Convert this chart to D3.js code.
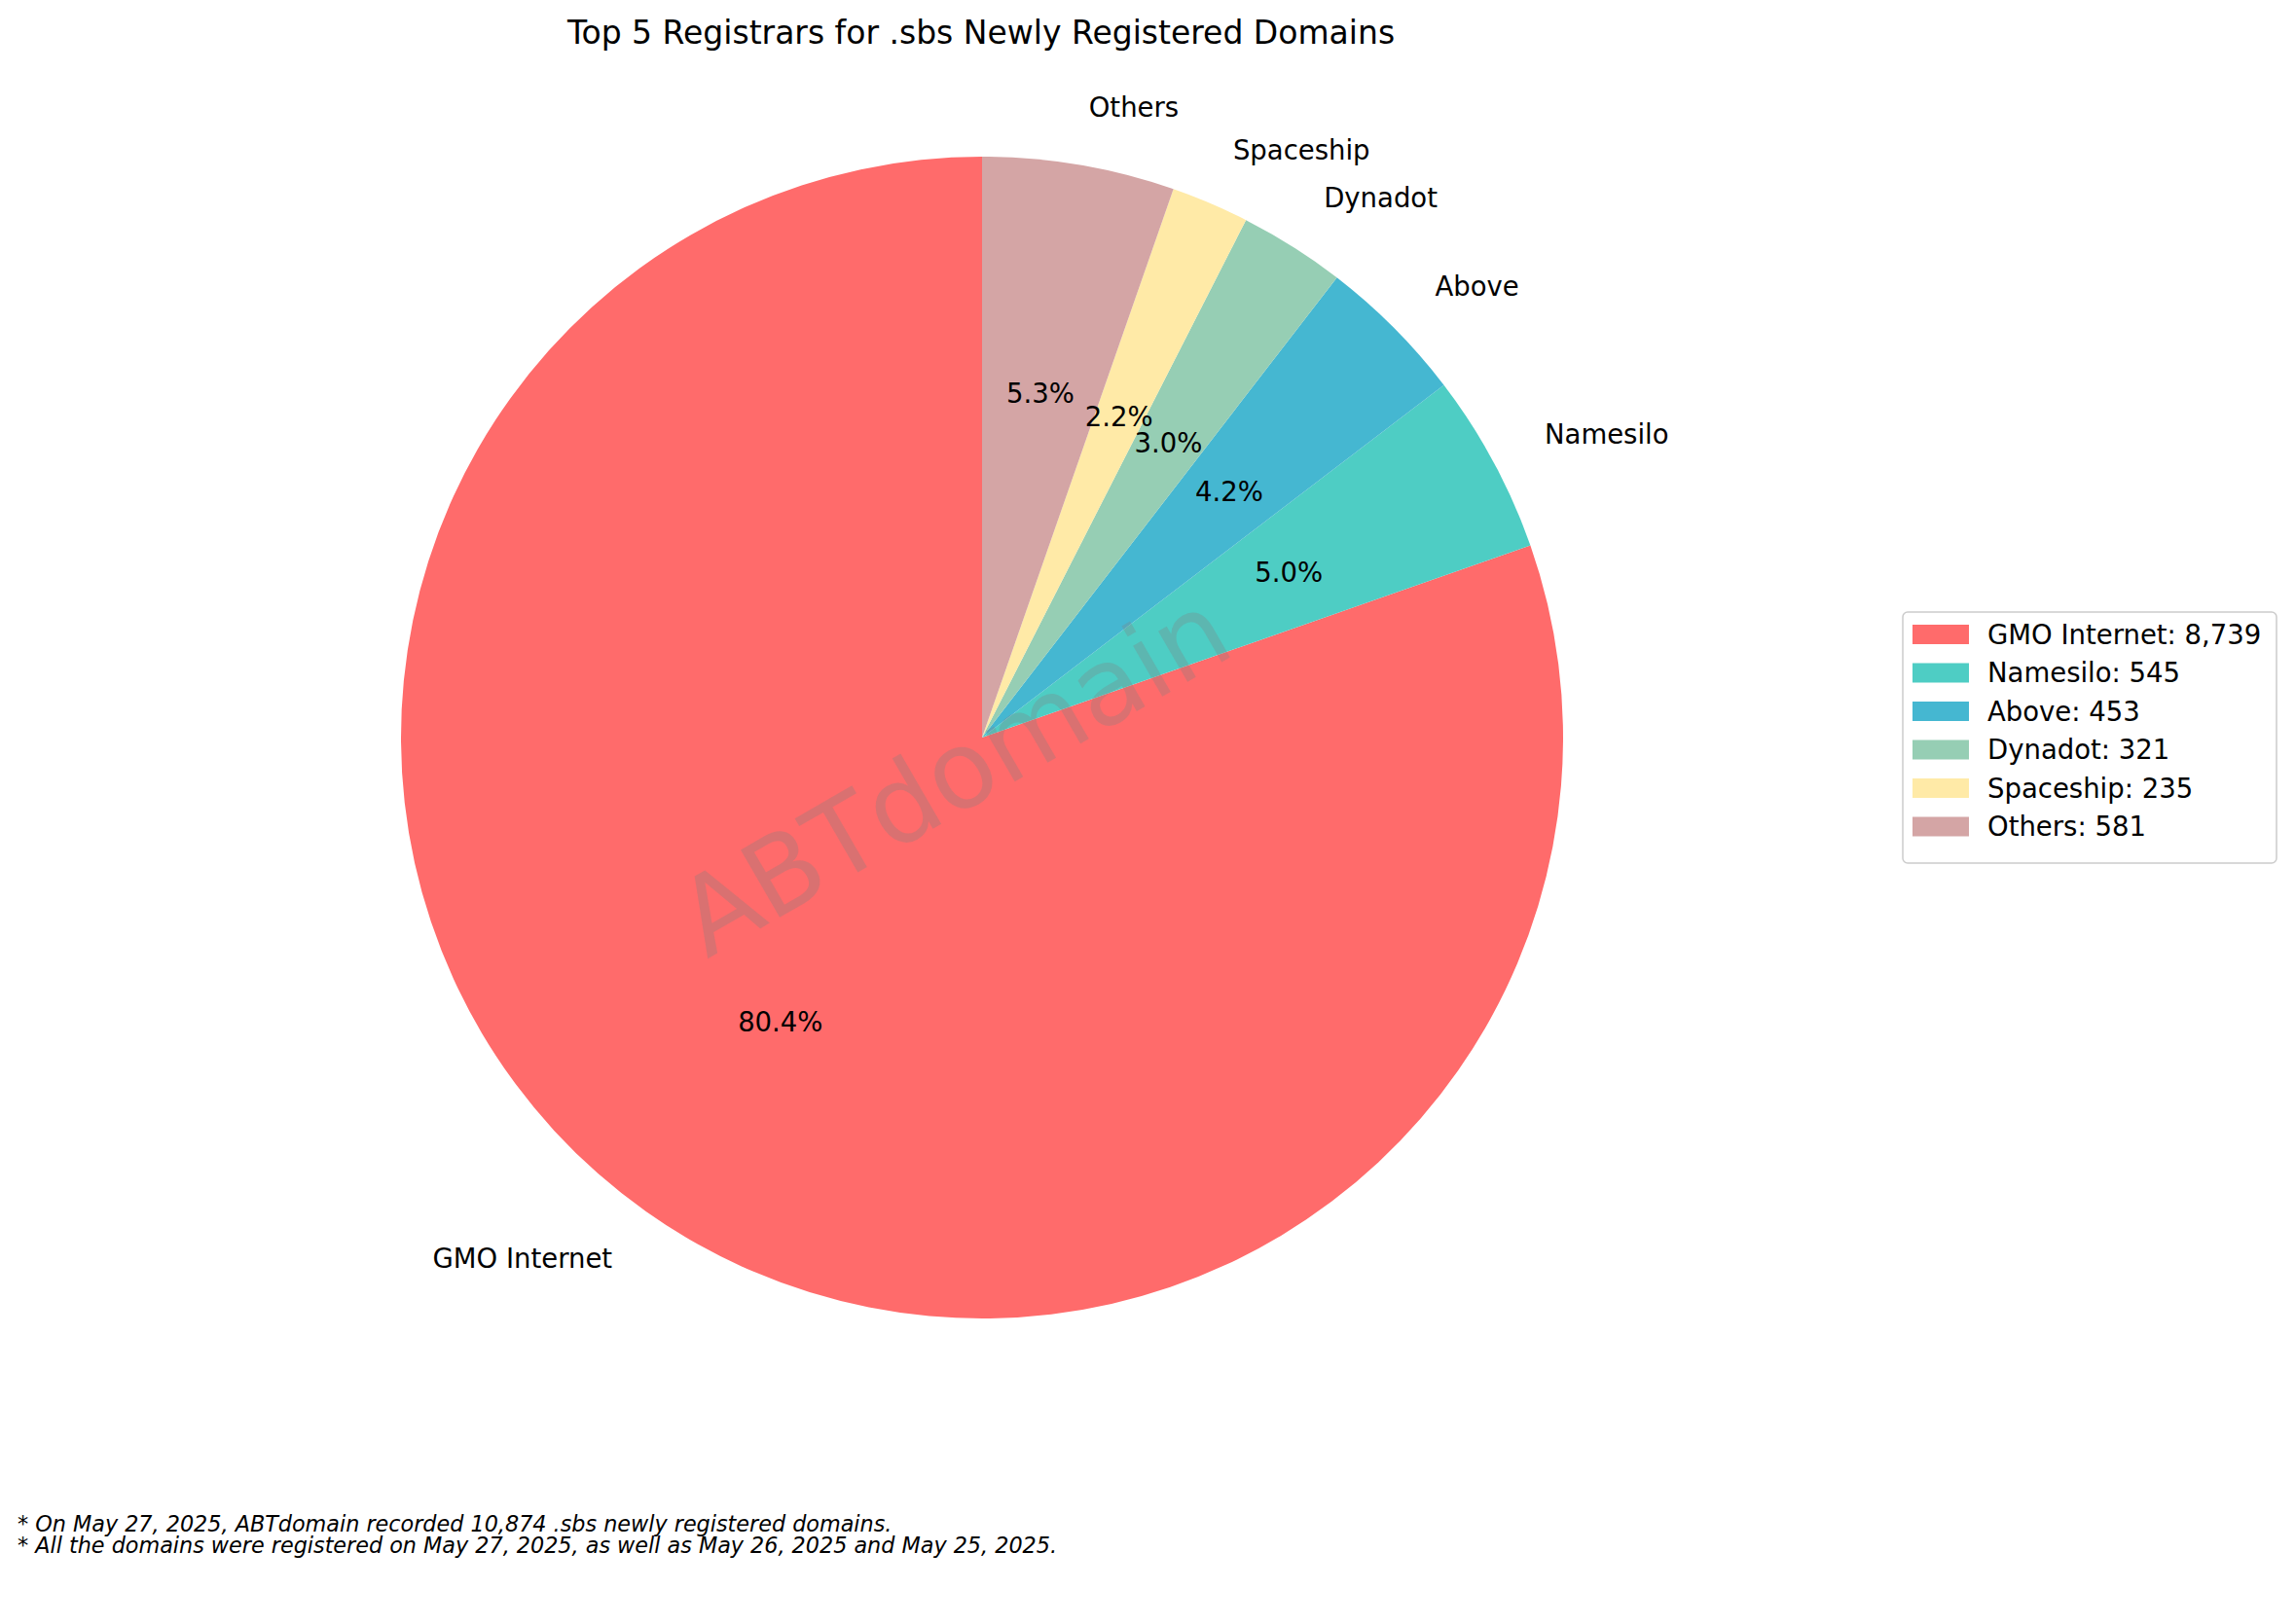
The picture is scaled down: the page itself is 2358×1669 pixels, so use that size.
<!DOCTYPE html>
<html><head><meta charset="utf-8">
<script src="https://cdn.jsdelivr.net/npm/d3@7"></script>
<style>body{margin:0;background:#fff;font-family:"DejaVu Sans",sans-serif}</style>
</head><body>
<svg id="c" width="2358" height="1669"></svg>
<script>
const categories = ["GMO Internet","Namesilo","Above","Dynadot","Spaceship","Others"];
const values = [8739,545,453,321,235,581];
const colors = ["#FF6B6B","#4ECDC4","#45B7D1","#96CEB4","#FFEAA7","#D4A5A5"];
const title = "Top 5 Registrars for .sbs Newly Registered Domains";
const notes = ["* On May 27, 2025, ABTdomain recorded 10,874 .sbs newly registered domains.",
"* All the domains were registered on May 27, 2025, as well as May 26, 2025 and May 25, 2025."];

const svg = d3.select("#c");
const cx = 1009, cy = 758, R = 597;
const total = d3.sum(values);
const data = categories.map((c,i)=>({c,v:values[i],col:colors[i]}));
const pie = d3.pie().value(d=>d.v).sort(null).startAngle(0).endAngle(-2*Math.PI);
const arcs = pie(data);
const arc = d3.arc().innerRadius(0).outerRadius(R);
const g = svg.append("g").attr("transform",`translate(${cx},${cy})`);
g.selectAll("path").data(arcs).join("path").attr("d",arc).attr("fill",d=>d.data.col);

function pos(a, r){ const m=(a.startAngle+a.endAngle)/2; return [r*Math.sin(m), -r*Math.cos(m)]; }
arcs.forEach(a=>{
  const [x,y]=pos(a,R*1.1);
  g.append("text").attr("x",x).attr("y",y).attr("dy","0.35em")
   .attr("text-anchor",x>0?"start":"end").attr("font-size",27.5).text(a.data.c);
  const [px,py]=pos(a,R*0.6);
  g.append("text").attr("x",px).attr("y",py).attr("dy","0.35em").attr("text-anchor","middle")
   .attr("font-size",27.5).text((a.data.v/total*100).toFixed(1)+"%");
});

svg.append("text").attr("x",980).attr("y",795).attr("text-anchor","middle").attr("dy","0.35em")
  .attr("font-size",110).attr("fill","#808080").attr("fill-opacity",0.3)
  .attr("transform","rotate(-30,980,795)").text("ABTdomain");

svg.append("text").attr("x",1008).attr("y",45).attr("text-anchor","middle").attr("font-size",33).text(title);

const lg = svg.append("g").attr("transform","translate(1955,629)");
lg.append("rect").attr("width",384).attr("height",258).attr("rx",5).attr("fill","#fff").attr("stroke","#ccc").attr("stroke-width",1.5);
data.forEach((d,i)=>{
  const y=23+i*39.5;
  lg.append("rect").attr("x",10).attr("y",y-10).attr("width",58).attr("height",20).attr("fill",d.col);
  lg.append("text").attr("x",87).attr("y",y).attr("dy","0.35em").attr("font-size",27.5).text(d.c+": "+d3.format(",")(d.v));
});

notes.forEach((n,i)=>svg.append("text").attr("x",18).attr("y",1574+i*22).attr("font-size",22.3).attr("font-style","italic").text(n));
</script>
</body></html>
